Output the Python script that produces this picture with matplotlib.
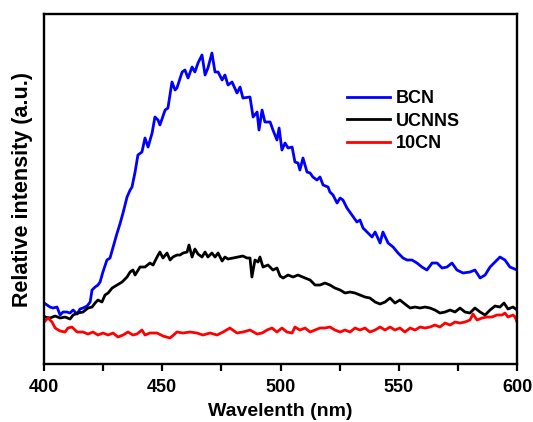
import matplotlib
matplotlib.use("Agg")
import matplotlib.pyplot as plt
from matplotlib.ticker import MultipleLocator

# --------------------------
# Data (wavelength in nm, intensity in a.u.)
# --------------------------
bcn_nm = [400.0, 401.3, 402.5, 403.8, 405.5, 406.8, 408.0, 409.7, 411.0, 412.3,
          414.0, 415.2, 416.5, 418.2, 419.5, 420.3, 421.6, 422.8, 423.7, 424.9,
          426.6, 427.9, 429.2, 430.9, 432.1, 433.4, 435.1, 436.4, 437.2, 438.5,
          439.7, 441.4, 442.7, 444.0, 445.7, 446.9, 448.2, 449.0, 451.2, 452.4,
          454.1, 455.4, 456.2, 458.4, 459.6, 460.9, 462.6, 463.8, 465.1, 466.8,
          468.1, 469.3, 471.0, 472.3, 473.6, 475.3, 476.5, 477.8, 479.5, 481.6,
          482.9, 484.1, 487.1, 488.4, 490.1, 490.9, 492.2, 493.4, 495.6, 496.8,
          498.5, 499.4, 500.6, 501.9, 503.2, 504.9, 506.1, 507.4, 508.2, 509.5,
          511.2, 512.5, 513.7, 515.4, 516.7, 518.0, 520.1, 520.9, 522.2, 523.9,
          525.2, 526.4, 528.1, 530.2, 532.3, 533.6, 534.9, 537.0, 538.7, 540.0,
          542.1, 543.3, 545.5, 547.6, 549.7, 551.8, 553.5, 555.6, 557.7, 559.8,
          561.9, 564.1, 566.2, 568.3, 570.4, 572.5, 574.6, 577.2, 580.1, 582.2,
          584.4, 586.5, 588.6, 590.7, 592.8, 594.9, 597.0, 600.0]
bcn_int = [61, 59, 57, 56, 57, 49, 52, 52, 51, 54,
           50, 55, 56, 58, 62, 74, 77, 79, 82, 92,
           104, 106, 117, 131, 140, 151, 167, 174, 177, 192,
           209, 212, 226, 217, 231, 247, 244, 239, 254, 256,
           282, 274, 276, 292, 294, 286, 297, 292, 301, 309,
           289, 296, 311, 292, 292, 284, 289, 279, 282, 271,
           277, 266, 267, 247, 252, 234, 254, 242, 242, 234,
           224, 236, 214, 221, 216, 217, 202, 201, 194, 206,
           192, 191, 187, 184, 187, 179, 177, 172, 169, 161,
           166, 164, 156, 149, 142, 144, 136, 131, 127, 132,
           121, 132, 121, 117, 111, 106, 104, 104, 101, 97,
           94, 101, 101, 96, 97, 101, 94, 91, 92, 94,
           86, 89, 97, 102, 107, 104, 97, 94]

ucnns_nm = [400.0, 400.4, 402.5, 404.7, 406.8, 408.9, 411.0, 412.3, 414.4, 416.5,
            418.6, 420.3, 421.6, 422.8, 424.5, 425.8, 427.1, 428.8, 430.9, 433.0,
            435.1, 436.4, 437.6, 438.5, 440.6, 442.7, 444.8, 446.1, 447.8, 449.0,
            450.3, 452.0, 453.3, 454.5, 456.2, 457.5, 458.8, 460.5, 461.3, 462.6,
            463.8, 465.1, 466.8, 468.1, 469.3, 471.0, 472.3, 473.6, 475.3, 476.5,
            477.8, 479.9, 482.0, 484.1, 485.8, 487.1, 487.9, 489.2, 490.5, 491.3,
            492.6, 494.7, 496.8, 498.5, 499.8, 501.1, 503.2, 505.3, 507.4, 510.4,
            512.5, 514.6, 516.7, 518.8, 520.9, 523.0, 525.2, 527.3, 529.4, 531.5,
            533.6, 535.7, 537.8, 540.0, 542.1, 544.2, 546.3, 548.4, 550.5, 552.6,
            554.8, 556.9, 559.0, 561.1, 563.2, 565.3, 567.4, 569.6, 571.7, 573.8,
            575.9, 578.0, 580.1, 582.2, 584.4, 586.5, 588.6, 590.7, 592.8, 594.5,
            596.2, 598.3, 600.0]
ucnns_int = [48, 47, 46, 48, 46, 47, 45, 49, 51, 52,
             56, 57, 61, 64, 62, 69, 71, 76, 79, 82,
             87, 92, 94, 89, 97, 97, 101, 99, 107, 112,
             106, 111, 104, 107, 109, 109, 111, 112, 119, 107,
             115, 110, 107, 112, 107, 111, 107, 111, 103, 107,
             105, 106, 107, 108, 106, 106, 87, 104, 102, 107,
             97, 99, 94, 96, 88, 86, 89, 87, 89, 86,
             84, 79, 79, 81, 79, 76, 74, 71, 72, 71,
             69, 67, 66, 62, 60, 62, 66, 61, 64, 60,
             56, 57, 56, 57, 56, 54, 51, 52, 54, 52,
             56, 52, 51, 56, 52, 49, 54, 58, 57, 61,
             55, 57, 54]

cn10_nm = [400.0, 401.7, 403.4, 404.7, 406.8, 408.9, 410.1, 411.8, 414.0, 416.5,
           418.6, 420.7, 422.8, 424.9, 427.1, 429.2, 431.3, 433.4, 435.5, 437.6,
           439.3, 441.4, 442.7, 444.8, 447.8, 450.3, 453.3, 456.2, 458.8, 461.7,
           464.7, 467.2, 470.2, 473.2, 475.7, 478.6, 481.6, 484.1, 487.1, 490.1,
           492.2, 494.3, 496.4, 498.5, 500.6, 502.7, 504.9, 506.1, 508.2, 510.4,
           512.5, 514.6, 516.7, 518.8, 520.9, 523.0, 525.2, 527.3, 529.4, 531.5,
           533.6, 535.7, 537.8, 540.0, 542.1, 544.2, 546.3, 548.4, 550.5, 552.6,
           554.8, 556.9, 559.0, 561.1, 563.2, 565.3, 567.4, 569.6, 571.7, 573.8,
           575.9, 578.0, 580.1, 581.4, 583.1, 585.2, 587.3, 589.4, 591.5, 593.7,
           594.9, 596.2, 598.3, 599.2, 600.0]
cn10_int = [42, 46, 42, 36, 33, 32, 36, 37, 32, 32,
            30, 32, 29, 31, 29, 31, 27, 29, 32, 29,
            30, 34, 29, 31, 31, 28, 26, 32, 31, 32,
            31, 29, 31, 29, 32, 36, 31, 32, 34, 30,
            31, 34, 36, 32, 36, 32, 31, 37, 34, 36,
            32, 34, 36, 36, 37, 34, 32, 34, 32, 36,
            34, 36, 32, 34, 37, 34, 37, 34, 36, 32,
            36, 34, 37, 36, 37, 39, 37, 41, 39, 42,
            41, 42, 44, 50, 44, 46, 47, 47, 49, 49,
            51, 47, 49, 47, 42]

series_labels = ["BCN", "UCNNS", "10CN"]
series_colors = ["#0000ff", "black", "#ff0000"]

# --------------------------
# Figure
# --------------------------
plt.rcParams["font.family"] = ["Liberation Sans", "DejaVu Sans"]
plt.rcParams["font.weight"] = "bold"

fig = plt.figure(figsize=(5.33, 4.22), dpi=100)
ax = fig.add_axes([0.0826, 0.1374, 0.8874, 0.8294])

ax.plot(bcn_nm, bcn_int, color=series_colors[0], lw=2.0, label=series_labels[0])
ax.plot(ucnns_nm, ucnns_int, color=series_colors[1], lw=2.0, label=series_labels[1])
ax.plot(cn10_nm, cn10_int, color=series_colors[2], lw=2.0, label=series_labels[2])

ax.set_xlim(400, 600)
ax.set_ylim(0, 350)

ax.xaxis.set_major_locator(MultipleLocator(50))
ax.xaxis.set_minor_locator(MultipleLocator(25))
ax.tick_params(axis="x", which="both", direction="out", length=5, width=1.6,
               labelsize=13, pad=6)
ax.set_yticks([])
for spine in ax.spines.values():
    spine.set_linewidth(1.7)

ax.set_xlabel("Wavelenth (nm)", fontsize=14, fontweight="bold", labelpad=5)
ax.set_ylabel("Relative intensity (a.u.)", fontsize=15.5, fontweight="bold", labelpad=8)

ax.legend(loc="center left", bbox_to_anchor=(0.64, 0.694), frameon=False,
          handlelength=2.4, handletextpad=0.3, labelspacing=0.3,
          borderpad=0, borderaxespad=0, prop={"weight": "bold", "size": 13})

fig.savefig("out.png", dpi=100)
